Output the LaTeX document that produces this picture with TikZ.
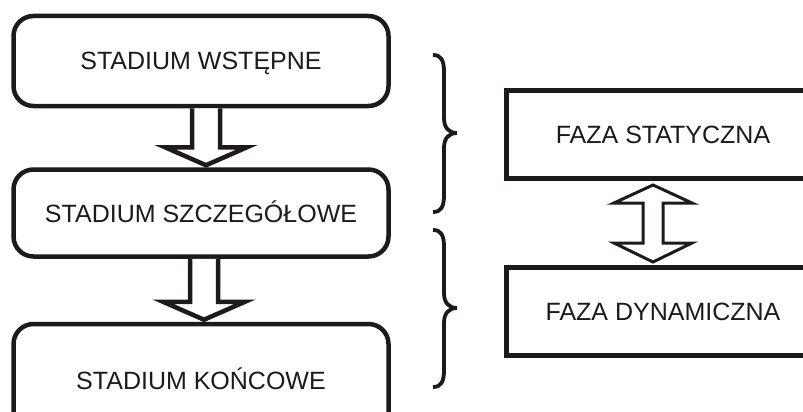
\documentclass[tikz,border=0pt]{standalone}
\usepackage{fontspec}
\setmainfont{Liberation Sans}
\usetikzlibrary{calc}
\definecolor{ink}{RGB}{30,26,25}
\begin{document}
\begin{tikzpicture}[x=1pt,y=-1pt,
  labelfont/.style={text=ink, font=\fontsize{25}{29}\selectfont, text height=18pt, text depth=0pt},
  stadium/.style={draw=ink, line width=4.5pt, rounded corners=20pt, minimum width=375pt, inner sep=0pt, labelfont},
  faza/.style={draw=ink, line width=5pt, minimum width=314pt, minimum height=88pt, inner sep=0pt, labelfont},
  blockarrow/.style={draw=ink, line width=4.5pt, fill=white, line join=miter},
  dblarrow/.style={draw=ink, line width=3pt, fill=white, line join=miter},
  bracestyle/.style={draw=ink, line width=3.8pt}]
\useasboundingbox (0,0) rectangle (803,412);
\clip (0,0) rectangle (803,412);
\fill[white] (0,0) rectangle (803,412);
% left stages
\node[stadium, minimum height=90pt] (s1) at (201,61) {STADIUM WSTĘPNE};
\node[stadium, minimum height=87pt] (s2) at (201,213) {STADIUM SZCZEGÓŁOWE};
\node[stadium, minimum height=112pt] (s3) at (201,380) {STADIUM KOŃCOWE};
% right phases
\node[faza] (f1) at (663,134.5) {FAZA STATYCZNA};
\node[faza] (f2) at (663,311.5) {FAZA DYNAMICZNA};
% block arrows between stages
\draw[blockarrow] let \p1=([xshift=5pt]s1.south), \p2=([xshift=5pt,yshift=2pt]s2.north) in
  (\x1-14pt,\y1) -- (\x1-14pt,\y2+18pt) -- (\x1-41pt,\y2+18pt) -- (\x2,\y2)
  -- (\x1+41pt,\y2+18pt) -- (\x1+14pt,\y2+18pt) -- (\x1+14pt,\y1);
\draw[blockarrow] let \p1=([xshift=3pt]s2.south), \p2=([xshift=3pt,yshift=2pt]s3.north) in
  (\x1-14pt,\y1) -- (\x1-14pt,\y2+18pt) -- (\x1-41pt,\y2+18pt) -- (\x2,\y2)
  -- (\x1+41pt,\y2+18pt) -- (\x1+14pt,\y2+18pt) -- (\x1+14pt,\y1);
% double arrow between phases
\draw[dblarrow] let \p1=([xshift=-10pt]f1.south), \p2=([xshift=-10pt]f2.north) in
  (\x1,\y1-4pt) -- (\x1+39pt,\y1-22pt) -- (\x1+10pt,\y1-22pt) -- (\x1+10pt,\y2+22pt)
  -- (\x1+39pt,\y2+22pt) -- (\x1,\y2+3pt) -- (\x1-39pt,\y2+22pt) -- (\x1-10pt,\y2+22pt)
  -- (\x1-10pt,\y1-22pt) -- (\x1-39pt,\y1-22pt) -- cycle;
% braces
\draw[bracestyle] (433,55) .. controls (441,55) and (444,60) .. (444,72) -- (444,118)
  .. controls (444,128) and (449,133) .. (457,133) .. controls (449,133) and (444,138) .. (444,148)
  -- (444,195) .. controls (444,207) and (441,212) .. (433,212);
\draw[bracestyle] (433,230) .. controls (441,230) and (444,235) .. (444,247) -- (444,293)
  .. controls (444,303) and (449,308) .. (457,308) .. controls (449,308) and (444,313) .. (444,323)
  -- (444,370) .. controls (444,382) and (441,387) .. (433,387);
\end{tikzpicture}
\end{document}
